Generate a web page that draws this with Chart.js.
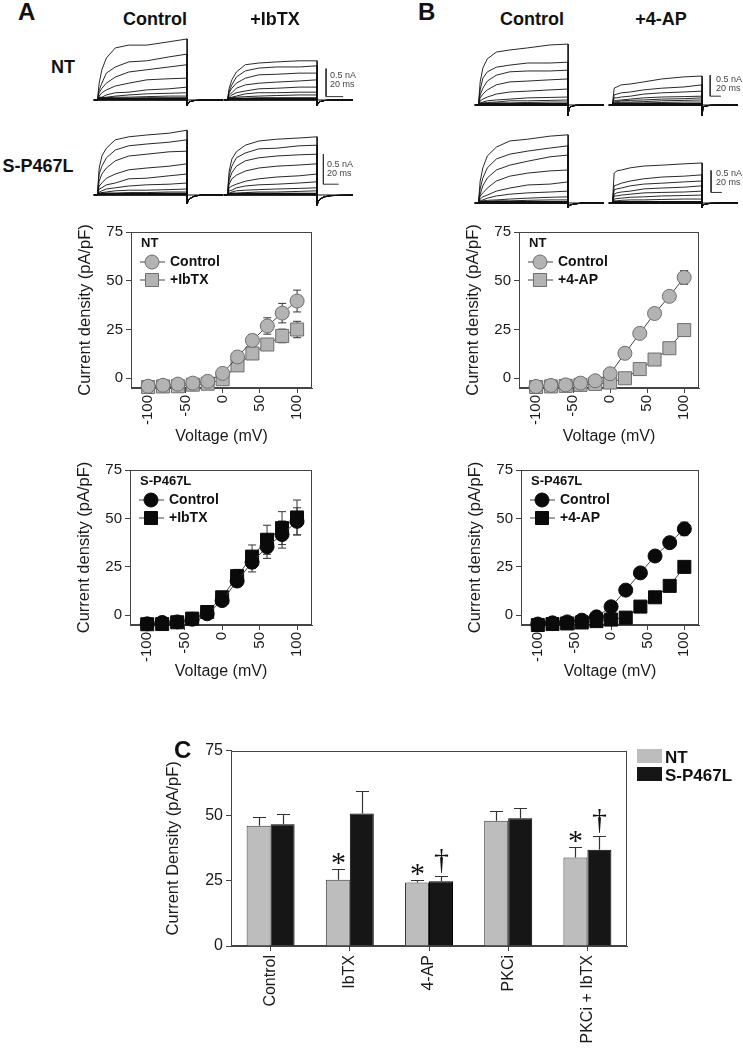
<!DOCTYPE html>
<html>
<head>
<meta charset="utf-8">
<script src="https://cdn.jsdelivr.net/npm/chart.js@4.4.1/dist/chart.umd.min.js"></script>
<style>
body { margin: 0; background: #fff; }
#page { position: relative; width: 743px; height: 1049px; overflow: hidden; font-family: "Liberation Sans", Arial, sans-serif; color: #111; }
canvas { position: absolute; }
.lbl { position: absolute; white-space: nowrap; }
</style>
</head>
<body>
<div id="page"></div>
<script>
// ---- current traces (nA), sampled at TRACE_T ms after the step start ----
const TRACE_T = [0, 2, 5, 10, 20, 35, 55, 80, 100];
const TAIL_T = [100, 101, 103, 108, 116, 140];

// panel A, NT
const A_NT_CTRL_TRACES = [
  [0, 0.30, 0.54, 0.75, 0.93, 0.98, 0.98, 1.04, 1.09],
  [0, 0.18, 0.30, 0.48, 0.59, 0.68, 0.70, 0.77, 0.82],
  [0, 0.13, 0.21, 0.30, 0.41, 0.50, 0.54, 0.59, 0.63],
  [0, 0.07, 0.13, 0.18, 0.25, 0.30, 0.36, 0.38, 0.39],
  [0, 0.05, 0.05, 0.09, 0.13, 0.14, 0.18, 0.20, 0.23],
  [0, 0.04, 0.04, 0.05, 0.07, 0.09, 0.11, 0.12, 0.13],
  [0, 0.03, 0.04, 0.04, 0.05, 0.05, 0.06, 0.07, 0.07],
  [0, 0.02, 0.02, 0.03, 0.03, 0.03, 0.04, 0.04, 0.04]
];
const A_NT_CTRL_TAIL = [-0.10, -0.06, -0.03, -0.01, 0, 0];
const A_NT_IBTX_TRACES = [
  [0, 0.21, 0.36, 0.50, 0.63, 0.66, 0.68, 0.70, 0.70],
  [0, 0.16, 0.27, 0.41, 0.52, 0.57, 0.59, 0.59, 0.61],
  [0, 0.13, 0.21, 0.30, 0.39, 0.45, 0.46, 0.48, 0.48],
  [0, 0.09, 0.13, 0.21, 0.27, 0.30, 0.32, 0.34, 0.36],
  [0, 0.05, 0.09, 0.13, 0.16, 0.20, 0.21, 0.23, 0.23],
  [0, 0.04, 0.05, 0.07, 0.11, 0.13, 0.13, 0.14, 0.14],
  [0, 0.02, 0.04, 0.05, 0.06, 0.07, 0.08, 0.09, 0.09],
  [0, 0.02, 0.02, 0.03, 0.03, 0.04, 0.04, 0.04, 0.04]
];
const A_NT_IBTX_TAIL = [-0.10, -0.06, -0.03, -0.01, 0, 0];

// panel A, S-P467L
const A_S_CTRL_TRACES = [
  [0, 0.45, 0.65, 0.78, 0.92, 0.97, 1.00, 1.03, 1.08],
  [0, 0.35, 0.48, 0.62, 0.75, 0.82, 0.85, 0.88, 0.92],
  [0, 0.23, 0.35, 0.45, 0.57, 0.65, 0.68, 0.72, 0.73],
  [0, 0.15, 0.20, 0.28, 0.35, 0.42, 0.45, 0.48, 0.52],
  [0, 0.10, 0.12, 0.17, 0.20, 0.27, 0.28, 0.32, 0.35],
  [0, 0.05, 0.07, 0.10, 0.12, 0.15, 0.17, 0.18, 0.20],
  [0, 0.03, 0.04, 0.05, 0.07, 0.08, 0.08, 0.09, 0.10],
  [0, 0.02, 0.03, 0.03, 0.03, 0.04, 0.04, 0.05, 0.05]
];
const A_S_CTRL_TAIL = [-0.15, -0.10, -0.06, -0.02, 0, 0];
const A_S_IBTX_TRACES = [
  [0, 0.40, 0.60, 0.72, 0.83, 0.90, 0.93, 0.95, 0.97],
  [0, 0.32, 0.48, 0.62, 0.70, 0.77, 0.78, 0.82, 0.83],
  [0, 0.25, 0.37, 0.48, 0.57, 0.62, 0.65, 0.67, 0.68],
  [0, 0.18, 0.27, 0.33, 0.40, 0.45, 0.48, 0.50, 0.52],
  [0, 0.12, 0.15, 0.18, 0.23, 0.27, 0.30, 0.32, 0.35],
  [0, 0.07, 0.08, 0.12, 0.15, 0.17, 0.18, 0.20, 0.22],
  [0, 0.03, 0.05, 0.07, 0.08, 0.09, 0.10, 0.11, 0.12],
  [0, 0.02, 0.03, 0.03, 0.04, 0.05, 0.05, 0.06, 0.07]
];
const A_S_IBTX_TAIL = [-0.17, -0.12, -0.07, -0.03, -0.01, 0];

// panel B, NT
const B_NT_CTRL_TRACES = [
  [0, 0.55, 0.88, 1.10, 1.26, 1.31, 1.36, 1.43, 1.45],
  [0, 0.36, 0.64, 0.79, 0.90, 0.95, 1.00, 1.00, 1.02],
  [0, 0.24, 0.40, 0.57, 0.71, 0.79, 0.81, 0.81, 0.83],
  [0, 0.17, 0.26, 0.36, 0.48, 0.55, 0.57, 0.60, 0.62],
  [0, 0.10, 0.14, 0.19, 0.26, 0.31, 0.33, 0.36, 0.38],
  [0, 0.05, 0.07, 0.10, 0.12, 0.14, 0.17, 0.18, 0.19],
  [0, 0.04, 0.05, 0.06, 0.07, 0.10, 0.10, 0.11, 0.12],
  [0, 0.02, 0.02, 0.04, 0.05, 0.05, 0.06, 0.07, 0.07]
];
const B_NT_CTRL_TAIL = [-0.25, -0.08, -0.04, -0.01, 0, 0];
const B_NT_4AP_TRACES = [
  [0, 0.40, 0.43, 0.48, 0.50, 0.55, 0.62, 0.67, 0.69],
  [0, 0.24, 0.26, 0.29, 0.31, 0.36, 0.40, 0.43, 0.48],
  [0, 0.17, 0.17, 0.19, 0.21, 0.26, 0.29, 0.31, 0.33],
  [0, 0.10, 0.11, 0.12, 0.14, 0.17, 0.19, 0.20, 0.21],
  [0, 0.07, 0.08, 0.10, 0.11, 0.12, 0.14, 0.15, 0.17],
  [0, 0.05, 0.06, 0.07, 0.07, 0.08, 0.10, 0.11, 0.12],
  [0, 0.02, 0.04, 0.05, 0.05, 0.05, 0.06, 0.07, 0.07]
];
const B_NT_4AP_TAIL = [-0.25, -0.06, -0.03, -0.01, 0, 0];

// panel B, S-P467L
const B_S_CTRL_TRACES = [
  [0, 0.50, 0.80, 1.07, 1.27, 1.41, 1.45, 1.52, 1.55],
  [0, 0.32, 0.57, 0.80, 1.00, 1.11, 1.18, 1.25, 1.30],
  [0, 0.20, 0.39, 0.57, 0.75, 0.86, 0.95, 1.05, 1.09],
  [0, 0.16, 0.23, 0.34, 0.50, 0.61, 0.68, 0.73, 0.75],
  [0, 0.09, 0.14, 0.18, 0.27, 0.34, 0.41, 0.43, 0.48],
  [0, 0.05, 0.07, 0.11, 0.16, 0.20, 0.23, 0.25, 0.27],
  [0, 0.02, 0.05, 0.06, 0.07, 0.09, 0.11, 0.13, 0.14],
  [0, 0.02, 0.02, 0.03, 0.05, 0.05, 0.06, 0.07, 0.07]
];
const B_S_CTRL_TAIL = [-0.10, -0.06, -0.04, -0.02, 0, 0];
const B_S_4AP_TRACES = [
  [0, 0.68, 0.73, 0.75, 0.80, 0.84, 0.86, 0.89, 0.91],
  [0, 0.39, 0.41, 0.45, 0.50, 0.55, 0.59, 0.61, 0.64],
  [0, 0.30, 0.32, 0.34, 0.39, 0.43, 0.45, 0.48, 0.50],
  [0, 0.20, 0.23, 0.25, 0.27, 0.32, 0.34, 0.36, 0.39],
  [0, 0.16, 0.16, 0.18, 0.20, 0.23, 0.24, 0.25, 0.27],
  [0, 0.09, 0.10, 0.11, 0.13, 0.14, 0.16, 0.17, 0.18],
  [0, 0.05, 0.05, 0.06, 0.07, 0.07, 0.08, 0.09, 0.09]
];
const B_S_4AP_TAIL = [-0.10, -0.05, -0.03, -0.01, 0, 0];

// ---- current density vs voltage (pA/pF) ----
const VOLTAGES = [-100, -80, -60, -40, -20, 0, 20, 40, 60, 80, 100];
const VOLT_TICKS = [-100, -50, 0, 50, 100];
const DENSITY_TICKS = [0, 25, 50, 75];

const A_NT_CTRL = [-4.1, -3.6, -3.0, -2.5, -1.6, 2.5, 10.9, 19.4, 26.8, 33.4, 39.6];
const A_NT_CTRL_ERR = [0.5, 0.5, 0.6, 0.6, 0.8, 1.2, 2.0, 3.0, 4.2, 5.0, 5.6];
const A_NT_IBTX = [-4.5, -4.2, -4.1, -3.3, -2.8, -0.5, 6.6, 12.7, 17.3, 21.7, 25.0];
const A_NT_IBTX_ERR = [0.4, 0.4, 0.5, 0.5, 0.6, 0.8, 1.5, 2.0, 2.5, 3.5, 4.2];

const B_NT_CTRL = [-4.2, -3.7, -3.4, -2.5, -1.3, 2.3, 12.8, 23.0, 33.2, 42.0, 51.7];
const B_NT_CTRL_ERR = [0.3, 0.3, 0.3, 0.4, 0.5, 0.8, 1.0, 1.2, 1.5, 2.5, 3.5];
const B_NT_4AP = [-4.5, -4.2, -3.9, -3.4, -2.9, -2.2, 0.0, 4.7, 9.6, 15.4, 24.7];
const B_NT_4AP_ERR = [0.3, 0.3, 0.3, 0.3, 0.3, 0.4, 0.5, 0.6, 0.8, 1.0, 1.5];

const A_S_CTRL = [-4.4, -3.7, -3.4, -2.0, 0.8, 7.6, 17.7, 27.4, 35.4, 41.7, 48.5];
const A_S_CTRL_ERR = [0.4, 0.4, 0.5, 0.6, 1.0, 1.5, 3.0, 5.0, 6.0, 7.0, 7.0];
const A_S_IBTX = [-4.6, -4.5, -3.6, -1.7, 1.7, 9.3, 20.2, 30.3, 39.0, 45.0, 50.5];
const A_S_IBTX_ERR = [0.4, 0.4, 0.5, 0.6, 1.0, 1.5, 3.5, 6.0, 7.5, 8.5, 9.0];

const B_S_CTRL = [-4.5, -3.9, -3.4, -2.5, -0.8, 4.4, 13.0, 21.9, 30.6, 37.5, 44.6];
const B_S_CTRL_ERR = [0.3, 0.3, 0.3, 0.4, 0.5, 0.8, 1.0, 1.2, 1.5, 2.0, 3.5];
const B_S_4AP = [-5.0, -4.5, -4.2, -3.7, -3.0, -2.2, -1.2, 4.5, 9.3, 15.2, 25.0];
const B_S_4AP_ERR = [0.3, 0.3, 0.3, 0.3, 0.3, 0.4, 0.5, 0.6, 0.8, 1.0, 1.2];

// ---- panel C, mean +/- sem (pA/pF) ----
const GROUPS = ['Control', 'IbTX', '4-AP', 'PKCi', 'PKCi + IbTX'];
const NT_MEAN = [46.2, 25.4, 24.4, 48.1, 34.0];
const NT_SEM = [3.4, 4.3, 1.0, 3.9, 3.9];
const NT_MARKS = ['', '*', '*', '', '*'];
const S_MEAN = [46.7, 50.9, 24.9, 49.0, 36.9];
const S_SEM = [4.1, 8.6, 1.9, 4.1, 5.3];
const S_MARKS = ['', '', '\u2020', '', '\u2020'];

Chart.defaults.font.family = '"Liberation Sans", Arial, sans-serif';
Chart.defaults.color = '#1a1a1a';
Chart.defaults.animation = false;

var page = document.getElementById('page');
var FONT = '"Liberation Sans", Arial, sans-serif';

function addCanvas(left, top, w, h) {
    var c = document.createElement('canvas');
    c.width = w;
    c.height = h;
    c.style.left = left + 'px';
    c.style.top = top + 'px';
    c.style.width = w + 'px';
    c.style.height = h + 'px';
    page.appendChild(c);
    return c;
}

// place a text label by its baseline
function label(text, x, baseline, size, bold, align, color) {
    var d = document.createElement('div');
    d.className = 'lbl';
    d.textContent = text;
    d.style.fontSize = size + 'px';
    d.style.lineHeight = size + 'px';
    d.style.fontWeight = bold ? 'bold' : 'normal';
    d.style.color = color || '#111';
    d.style.top = (baseline - 0.846 * size) + 'px';
    d.style.left = x + 'px';
    if (align === 'center') d.style.transform = 'translateX(-50%)';
    page.appendChild(d);
}

// ---- trace panels ----
var PX_PER_MS = 0.9;

function traceLine(points, width, color) {
    return { data: points, showLine: true, borderColor: color || '#111', borderWidth: width, pointRadius: 0, tension: 0, clip: false };
}

function traceChart(startX, baseY, barPx, traces, tail, bar) {
    var k = barPx / 0.5; // px per nA
    var xMin = -6, xMax = 140;
    var above = 70, below = 14;
    var w = Math.round((xMax - xMin) * PX_PER_MS);
    var canvas = addCanvas(startX + xMin * PX_PER_MS, baseY - above, w, above + below);
    var datasets = [];

    // baseline, and the dense bundle of small traces during the step
    datasets.push(traceLine([{ x: -4, y: 0 }, { x: xMax, y: 0 }], 1.2));
    datasets.push(traceLine([{ x: 0, y: 0.012 }, { x: 100, y: 0.012 }], 3));

    traces.forEach(function (tr) {
        var pts = [{ x: -4, y: 0 }];
        for (var i = 0; i < TRACE_T.length; i++) pts.push({ x: TRACE_T[i], y: tr[i] });
        for (var j = 0; j < TAIL_T.length; j++) pts.push({ x: TAIL_T[j], y: tail[j] });
        datasets.push(traceLine(pts, 0.9));
    });

    // scale bar
    if (bar) {
        datasets.push(traceLine([
            { x: bar.t, y: bar.bottom + 0.5 },
            { x: bar.t, y: bar.bottom },
            { x: bar.t + bar.len, y: bar.bottom }
        ], 1, '#333'));
    }

    new Chart(canvas, {
        type: 'scatter',
        data: { datasets: datasets },
        options: {
            responsive: false,
            events: [],
            layout: { padding: 0 },
            plugins: { legend: { display: false }, tooltip: { enabled: false } },
            scales: {
                x: { type: 'linear', display: false, min: xMin, max: xMax },
                y: { display: false, min: -below / k, max: above / k }
            }
        }
    });
}

traceChart(97, 99.5, 28, A_NT_CTRL_TRACES, A_NT_CTRL_TAIL, null);
traceChart(227, 99.5, 28, A_NT_IBTX_TRACES, A_NT_IBTX_TAIL, { t: 110, bottom: 0.06, len: 19 });
traceChart(97, 195, 30, A_S_CTRL_TRACES, A_S_CTRL_TAIL, null);
traceChart(227, 195, 30, A_S_IBTX_TRACES, A_S_IBTX_TAIL, { t: 107, bottom: 0.18, len: 17 });
traceChart(478, 105, 21, B_NT_CTRL_TRACES, B_NT_CTRL_TAIL, null);
traceChart(612, 105, 21, B_NT_4AP_TRACES, B_NT_4AP_TAIL, { t: 109, bottom: 0.21, len: 12 });
traceChart(478, 202.5, 22, B_S_CTRL_TRACES, B_S_CTRL_TAIL, null);
traceChart(612, 202.5, 22, B_S_4AP_TRACES, B_S_4AP_TAIL, { t: 110, bottom: 0.24, len: 12 });

// ---- shared plugins ----
var framePlugin = {
    id: 'frame',
    beforeDatasetsDraw: function (chart) {
        var a = chart.chartArea, ctx = chart.ctx;
        ctx.save();
        ctx.strokeStyle = '#444';
        ctx.lineWidth = 1;
        ctx.strokeRect(Math.round(a.left) + 0.5, Math.round(a.top) + 0.5, Math.round(a.right - a.left) - 1, Math.round(a.bottom - a.top) - 1);
        ctx.restore();
    }
};

var ivErrorPlugin = {
    id: 'ivErrors',
    beforeDatasetsDraw: function (chart) {
        var ctx = chart.ctx, xs = chart.scales.x, ys = chart.scales.y;
        ctx.save();
        ctx.strokeStyle = '#333';
        ctx.lineWidth = 1;
        chart.data.datasets.forEach(function (ds) {
            ds.data.forEach(function (p, i) {
                var e = ds.errors[i];
                var px = xs.getPixelForValue(p.x);
                var top = ys.getPixelForValue(p.y + e), bot = ys.getPixelForValue(p.y - e);
                ctx.beginPath();
                ctx.moveTo(px, top); ctx.lineTo(px, bot);
                ctx.moveTo(px - 4, top); ctx.lineTo(px + 4, top);
                ctx.moveTo(px - 4, bot); ctx.lineTo(px + 4, bot);
                ctx.stroke();
            });
        });
        ctx.restore();
    }
};

function drawMarker(ctx, style, r, x, y, fill, stroke) {
    ctx.fillStyle = fill;
    ctx.strokeStyle = stroke;
    ctx.lineWidth = 1;
    ctx.beginPath();
    if (style === 'rect') {
        var s = r * Math.SQRT1_2;
        ctx.rect(x - s, y - s, 2 * s, 2 * s);
    } else {
        ctx.arc(x, y, r, 0, Math.PI * 2);
    }
    ctx.fill();
    ctx.stroke();
}

var ivLegendPlugin = {
    id: 'ivLegend',
    afterDatasetsDraw: function (chart, args, opts) {
        var a = chart.chartArea, ctx = chart.ctx;
        ctx.save();
        ctx.textBaseline = 'middle';
        ctx.fillStyle = '#111';
        ctx.font = 'bold 13px ' + FONT;
        ctx.fillText(opts.title, a.left + 10, a.top + 11);
        chart.data.datasets.forEach(function (ds, i) {
            var y = a.top + opts.rows[i];
            ctx.strokeStyle = ds.borderColor;
            ctx.lineWidth = 1;
            ctx.beginPath();
            ctx.moveTo(a.left + 9, y);
            ctx.lineTo(a.left + 34, y);
            ctx.stroke();
            drawMarker(ctx, ds.pointStyle, ds.pointRadius, a.left + 21, y, ds.pointBackgroundColor, ds.pointBorderColor);
            ctx.fillStyle = '#111';
            ctx.font = 'bold 14px ' + FONT;
            ctx.fillText(ds.label, a.left + 39, y + 0.5);
        });
        ctx.restore();
    }
};

// ---- current density vs voltage plots ----
function ivChart(box, xh, title, series) {
    var yw = 55;
    var canvas = addCanvas(box.left - yw, box.top - 10, yw + box.w + 12, 10 + box.h + xh);
    var datasets = series.map(function (s, idx) {
        return {
            label: s.label,
            data: VOLTAGES.map(function (v, i) { return { x: v, y: s.values[i] }; }),
            errors: s.errors,
            showLine: true,
            borderColor: '#444',
            borderWidth: 1,
            pointStyle: s.style,
            pointRadius: s.style === 'rect' ? 9.2 : 7,
            pointBackgroundColor: s.fill,
            pointBorderColor: s.stroke,
            pointBorderWidth: 1,
            clip: false,
            order: idx === 0 ? 0 : 1
        };
    });

    new Chart(canvas, {
        type: 'scatter',
        data: { datasets: datasets },
        plugins: [framePlugin, ivErrorPlugin, ivLegendPlugin],
        options: {
            responsive: false,
            events: [],
            layout: { padding: { top: 10, right: 12, left: 0, bottom: 0 } },
            plugins: {
                legend: { display: false },
                tooltip: { enabled: false },
                ivLegend: { title: title, rows: [30, 48] }
            },
            scales: {
                x: {
                    type: 'linear', min: -123, max: 120,
                    afterBuildTicks: function (scale) { scale.ticks = VOLT_TICKS.map(function (v) { return { value: v }; }); },
                    afterFit: function (scale) { scale.height = xh; },
                    ticks: { autoSkip: false, minRotation: 90, maxRotation: 90, font: { size: 15 }, padding: 2 },
                    grid: { drawOnChartArea: false, tickLength: 5, color: '#444' },
                    border: { color: '#444' },
                    title: { display: true, text: 'Voltage (mV)', font: { size: 16 }, padding: { top: 0, bottom: 0 } }
                },
                y: {
                    min: -5, max: 75,
                    afterBuildTicks: function (scale) { scale.ticks = DENSITY_TICKS.map(function (v) { return { value: v }; }); },
                    afterFit: function (scale) { scale.width = yw; },
                    ticks: { font: { size: 15 }, padding: 3 },
                    grid: { drawOnChartArea: false, tickLength: 5, color: '#444' },
                    border: { color: '#444' },
                    title: { display: true, text: 'Current density (pA/pF)', font: { size: 16.5 }, padding: 0 }
                }
            }
        }
    });
}

var GRAY_FILL = '#b3b3b3', GRAY_LINE = '#6e6e6e', BLACK = '#0a0a0a';

ivChart({ left: 131, top: 230, w: 181, h: 158 }, 58, 'NT', [
    { label: 'Control', values: A_NT_CTRL, errors: A_NT_CTRL_ERR, style: 'circle', fill: GRAY_FILL, stroke: GRAY_LINE },
    { label: '+IbTX', values: A_NT_IBTX, errors: A_NT_IBTX_ERR, style: 'rect', fill: GRAY_FILL, stroke: GRAY_LINE }
]);
ivChart({ left: 519, top: 230, w: 180, h: 158 }, 58, 'NT', [
    { label: 'Control', values: B_NT_CTRL, errors: B_NT_CTRL_ERR, style: 'circle', fill: GRAY_FILL, stroke: GRAY_LINE },
    { label: '+4-AP', values: B_NT_4AP, errors: B_NT_4AP_ERR, style: 'rect', fill: GRAY_FILL, stroke: GRAY_LINE }
]);
ivChart({ left: 130, top: 468, w: 182, h: 157 }, 56, 'S-P467L', [
    { label: 'Control', values: A_S_CTRL, errors: A_S_CTRL_ERR, style: 'circle', fill: BLACK, stroke: BLACK },
    { label: '+IbTX', values: A_S_IBTX, errors: A_S_IBTX_ERR, style: 'rect', fill: BLACK, stroke: BLACK }
]);
ivChart({ left: 521, top: 468, w: 178, h: 157 }, 56, 'S-P467L', [
    { label: 'Control', values: B_S_CTRL, errors: B_S_CTRL_ERR, style: 'circle', fill: BLACK, stroke: BLACK },
    { label: '+4-AP', values: B_S_4AP, errors: B_S_4AP_ERR, style: 'rect', fill: BLACK, stroke: BLACK }
]);

// ---- panel C bar chart ----
var barExtrasPlugin = {
    id: 'barExtras',
    afterDatasetsDraw: function (chart) {
        var ctx = chart.ctx, ys = chart.scales.y;
        ctx.save();
        chart.data.datasets.forEach(function (ds, di) {
            var meta = chart.getDatasetMeta(di);
            meta.data.forEach(function (bar, i) {
                var cx = Math.round(bar.x) + 0.5;
                var topY = ys.getPixelForValue(ds.data[i]);
                var capY = Math.round(ys.getPixelForValue(ds.data[i] + ds.errors[i])) + 0.5;
                ctx.strokeStyle = '#333';
                ctx.lineWidth = 1.2;
                ctx.beginPath();
                ctx.moveTo(cx, topY); ctx.lineTo(cx, capY);
                ctx.moveTo(cx - 6.5, capY); ctx.lineTo(cx + 6.5, capY);
                ctx.stroke();

                var mark = ds.marks[i];
                if (!mark) return;
                ctx.fillStyle = '#111';
                ctx.textAlign = 'center';
                ctx.textBaseline = 'alphabetic';
                ctx.font = '30px "Liberation Serif", serif';
                var m = ctx.measureText(mark);
                if (mark === '*') {
                    var center = capY - 11;
                    ctx.fillText(mark, cx, center + (m.actualBoundingBoxAscent - m.actualBoundingBoxDescent) / 2);
                } else {
                    ctx.fillText(mark, cx, capY - 4 - m.actualBoundingBoxDescent);
                }
            });
        });
        ctx.restore();
    }
};

(function () {
    var box = { left: 231, top: 748, w: 396, h: 198 };
    var yw = 67, xh = 103;
    var canvas = addCanvas(box.left - yw, box.top - 10, yw + box.w + 12, 10 + box.h + xh);
    new Chart(canvas, {
        type: 'bar',
        data: {
            labels: GROUPS,
            datasets: [
                { label: 'NT', data: NT_MEAN, errors: NT_SEM, marks: NT_MARKS, backgroundColor: '#bdbdbd', borderColor: '#3a3a3a', borderWidth: 1 },
                { label: 'S-P467L', data: S_MEAN, errors: S_SEM, marks: S_MARKS, backgroundColor: '#161616', borderColor: '#000', borderWidth: 1 }
            ]
        },
        plugins: [framePlugin, barExtrasPlugin],
        options: {
            responsive: false,
            events: [],
            layout: { padding: { top: 10, right: 12, left: 0, bottom: 0 } },
            datasets: { bar: { categoryPercentage: 0.606, barPercentage: 1.0 } },
            plugins: { legend: { display: false }, tooltip: { enabled: false } },
            scales: {
                x: {
                    afterFit: function (scale) { scale.height = xh; },
                    ticks: { autoSkip: false, minRotation: 90, maxRotation: 90, font: { size: 16 }, padding: 4 },
                    grid: { offset: false, drawOnChartArea: false, tickLength: 5, color: '#444' },
                    border: { color: '#444' }
                },
                y: {
                    min: 0, max: 75,
                    afterBuildTicks: function (scale) { scale.ticks = DENSITY_TICKS.map(function (v) { return { value: v }; }); },
                    afterFit: function (scale) { scale.width = yw; },
                    ticks: { font: { size: 16 }, padding: 3 },
                    grid: { drawOnChartArea: false, tickLength: 5, color: '#444' },
                    border: { color: '#444' },
                    title: { display: true, text: 'Current Density (pA/pF)', font: { size: 16.5 }, padding: 0 }
                }
            }
        }
    });
})();

// ---- panel letters, headings, scale bar labels, legend of C ----
label('A', 18, 20, 24, true);
label('Control', 155, 25, 18, true, 'center');
label('+IbTX', 275, 25, 18, true, 'center');
label('NT', 63, 73, 18, true, 'center');
label('S-P467L', 38, 172, 18, true, 'center');
label('B', 418, 20, 24, true);
label('Control', 532, 25, 18, true, 'center');
label('+4-AP', 661, 25, 18, true, 'center');
label('C', 174, 758, 24, true);

label('0.5 nA', 330, 79, 9, false, 'left', '#444');
label('20 ms', 330, 88, 9, false, 'left', '#444');
label('0.5 nA', 327, 168, 9, false, 'left', '#444');
label('20 ms', 327, 177, 9, false, 'left', '#444');
label('0.5 nA', 716, 83, 9, false, 'left', '#444');
label('20 ms', 716, 92, 9, false, 'left', '#444');
label('0.5 nA', 716, 177, 9, false, 'left', '#444');
label('20 ms', 716, 186, 9, false, 'left', '#444');

(function () {
    var sw1 = document.createElement('div');
    sw1.style.cssText = 'position:absolute;left:637px;top:749px;width:25px;height:14px;background:#bdbdbd;';
    page.appendChild(sw1);
    var sw2 = document.createElement('div');
    sw2.style.cssText = 'position:absolute;left:637px;top:767px;width:25px;height:14px;background:#161616;';
    page.appendChild(sw2);
})();
label('NT', 665, 763, 17, true);
label('S-P467L', 665, 781, 17, true);
</script>
</body>
</html>
